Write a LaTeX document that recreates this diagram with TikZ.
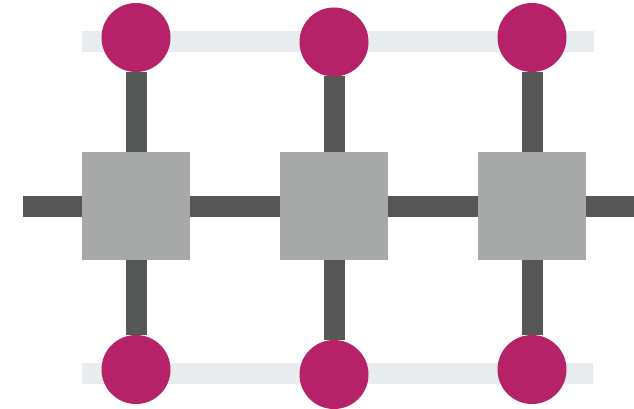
\documentclass[tikz,border=0pt]{standalone}
\usepackage{tikz}
\usetikzlibrary{positioning}
\usepackage{xcolor}

\definecolor{dotred}{HTML}{B52267}
\definecolor{wiregray}{HTML}{555756}
\definecolor{boxgray}{HTML}{A6A9A8}
\definecolor{barlight}{HTML}{E8ECEF}

\begin{document}
\begin{tikzpicture}[
  x=1pt, y=-1pt,
  node distance=90pt,
  cell/.style={rectangle, fill=boxgray, minimum size=108pt, inner sep=0pt, outer sep=0pt},
  dot/.style={circle, fill=dotred, minimum size=69pt, inner sep=0pt, outer sep=0pt},
  wire/.style={draw=wiregray, line width=21pt},
  bar/.style={fill=barlight}
]
  \useasboundingbox (0,0) rectangle (634,409);
  % light bars behind the dots
  \fill[bar] (82,31) rectangle (594,52);
  \fill[bar] (82,363) rectangle (593,384);

  \node[cell] (s1) at (136,206) {};
  \node[cell, right=of s1] (s2) {};
  \node[cell, right=of s2] (s3) {};

  \node[dot] (t1) at (136,37.5) {};
  \node[dot] (t2) at (334,42) {};
  \node[dot] (t3) at (532,37.5) {};
  \node[dot] (b1) at (136,369.5) {};
  \node[dot] (b2) at (334,374.5) {};
  \node[dot] (b3) at (532,369.5) {};

  \coordinate (in) at (23,206);
  \coordinate (out) at (634,206);

  \draw[wire] (in) -- (s1);
  \draw[wire] (s1) -- (s2);
  \draw[wire] (s2) -- (s3);
  \draw[wire] (s3) -- (out);
  \draw[wire] (t1) -- (s1);
  \draw[wire] (t2) -- (s2);
  \draw[wire] (t3) -- (s3);
  \draw[wire] (s1) -- (b1);
  \draw[wire] (s2) -- (b2);
  \draw[wire] (s3) -- (b3);
\end{tikzpicture}
\end{document}
